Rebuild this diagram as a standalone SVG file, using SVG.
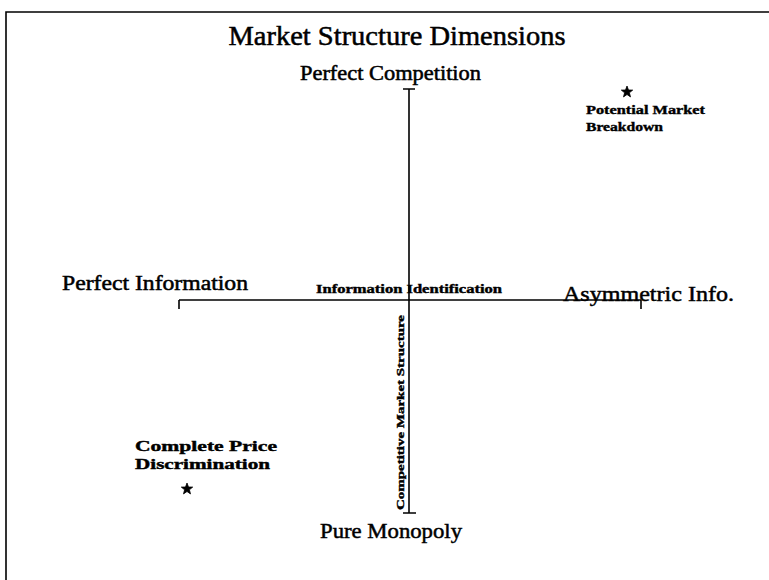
<svg xmlns="http://www.w3.org/2000/svg" width="769" height="580" viewBox="0 0 769 580">
<style>
.big{font-family:"Liberation Serif","Times New Roman",serif;fill:#000;stroke:#000;stroke-width:0.5}
.sm{font-family:"Liberation Serif","Times New Roman",serif;font-weight:bold;fill:#000;stroke:#000;stroke-width:0.4}
.ax{stroke:#000;stroke-width:1.6;fill:none}
.star{fill:#000;stroke:#000;stroke-width:0.8;stroke-linejoin:round}
</style>
<defs>
<polygon id="star" points="0,-6 1.5,-2 5.7,-1.9 2.4,0.8 3.5,4.9 0,2.5 -3.5,4.9 -2.4,0.8 -5.7,-1.9 -1.5,-2"/>
</defs>
<rect width="769" height="580" fill="#fff"/>
<g id="frame">
<path class="ax" d="M6,580 V12 H769" stroke-width="2.5"/>
</g>
<g id="title"><text class="big" x="397" y="45" font-size="27" text-anchor="middle" textLength="337" lengthAdjust="spacingAndGlyphs">Market Structure Dimensions</text></g>
<g id="connectors">
<path class="ax" d="M409,89 V513 M403,89 H415 M403,513 H416"/>
<path class="ax" d="M179,300 H641 M179,300 V309 M641,300 V309"/>
</g>
<g id="perfect-competition"><text class="big" x="300" y="80" font-size="20" textLength="181" lengthAdjust="spacingAndGlyphs">Perfect Competition</text></g>
<g id="pure-monopoly"><text class="big" x="320" y="538" font-size="22" textLength="142" lengthAdjust="spacingAndGlyphs">Pure Monopoly</text></g>
<g id="perfect-information"><text class="big" x="62" y="290" font-size="20" textLength="186" lengthAdjust="spacingAndGlyphs">Perfect Information</text></g>
<g id="asymmetric-info"><text class="big" x="563" y="301" font-size="22" textLength="171" lengthAdjust="spacingAndGlyphs">Asymmetric Info.</text></g>
<g id="information-identification"><text class="sm" x="316" y="293" font-size="12" textLength="186" lengthAdjust="spacingAndGlyphs">Information Identification</text></g>
<g id="competitive-market-structure"><text class="sm" transform="translate(404,510) rotate(-90)" x="0" y="0" font-size="11" textLength="195" lengthAdjust="spacingAndGlyphs">Competitive Market Structure</text></g>
<g id="potential-market-breakdown">
<use href="#star" class="star" x="627" y="92"/>
<text class="sm" x="586" y="114" font-size="13" textLength="119" lengthAdjust="spacingAndGlyphs">Potential Market</text>
<text class="sm" x="586" y="131" font-size="13" textLength="77" lengthAdjust="spacingAndGlyphs">Breakdown</text>
</g>
<g id="complete-price-discrimination">
<text class="sm" x="135" y="451" font-size="14" textLength="142" lengthAdjust="spacingAndGlyphs">Complete Price</text>
<text class="sm" x="135" y="469" font-size="14" textLength="135" lengthAdjust="spacingAndGlyphs">Discrimination</text>
<use href="#star" class="star" x="187" y="489"/>
</g>
</svg>
